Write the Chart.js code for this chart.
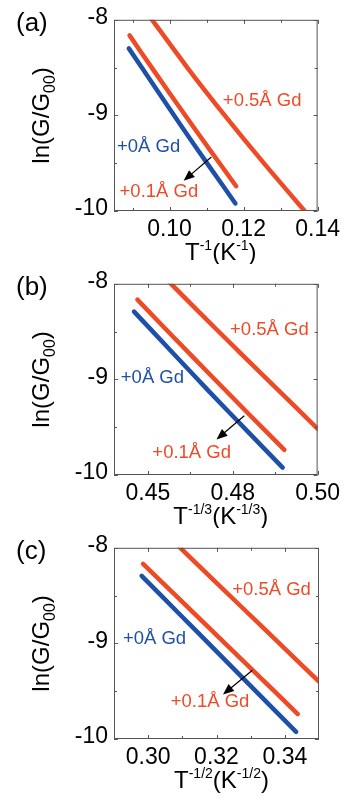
<!DOCTYPE html>
<html>
<head>
<meta charset="utf-8">
<script src="https://cdn.jsdelivr.net/npm/chart.js@4.4.0/dist/chart.umd.min.js"></script>
<style>
  html, body { margin: 0; padding: 0; background: #fff; }
  #wrap { position: relative; width: 345px; height: 807px; }
  canvas { position: absolute; left: 0; }
</style>
</head>
<body>
<div id="wrap">
  <canvas id="pa" width="345" height="264" style="top:0"></canvas>
  <canvas id="pb" width="345" height="264" style="top:264px"></canvas>
  <canvas id="pc" width="345" height="279" style="top:528px"></canvas>
</div>
<script>
// axe y commun aux trois panneaux
const yTicks = [-10, -9, -8];
const yLabels = ['-10', '-9', '-8'];
const yMinor = [-9.5, -8.5];

// (a) ln(G/G00) en fonction de T^-1
const xTicksA = [0.10, 0.12, 0.14];
const xLabelsA = ['0.10', '0.12', '0.14'];
const xMinorA = [0.09, 0.11, 0.13];
const gd0A = [[0.0890, -8.299], [0.0960, -8.700], [0.1034, -9.125], [0.1105, -9.520], [0.1178, -9.921]];
const gd01A = [[0.0892, -8.163], [0.0960, -8.545], [0.1036, -8.965], [0.1108, -9.355], [0.1180, -9.741]];
const gd05A = [[0.0940, -7.930], [0.0953, -8.000], [0.1050, -8.510], [0.1149, -9.000], [0.1257, -9.510], [0.1385, -10.090]];
const arrowA = [[0.1113, -9.435], [0.1038, -9.684]];
const notesA = [['+0.5Å Gd', 0.1144, -8.850, 2], ['+0Å Gd', 0.0858, -9.327, 0], ['+0.1Å Gd', 0.0865, -9.800, 1]];

// (b) ln(G/G00) en fonction de T^-1/3
const xTicksB = [0.45, 0.475, 0.50];
const xLabelsB = ['0.45', '0.48', '0.50'];
const xMinorB = [0.4625, 0.4875];
const gd0B = [[0.4459, -8.291], [0.4570, -8.710], [0.4680, -9.125], [0.4790, -9.530], [0.4897, -9.923]];
const gd01B = [[0.4469, -8.165], [0.4580, -8.575], [0.4690, -8.975], [0.4800, -9.372], [0.4902, -9.737]];
const gd05B = [[0.4550, -7.935], [0.4568, -8.000], [0.4700, -8.470], [0.4850, -8.995], [0.5010, -9.550]];
const arrowB = [[0.4784, -9.380], [0.4702, -9.628]];
const notesB = [['+0.5Å Gd', 0.4742, -8.478, 2], ['+0Å Gd', 0.4420, -8.988, 0], ['+0.1Å Gd', 0.4513, -9.770, 1]];

// (c) ln(G/G00) en fonction de T^-1/2
const xTicksC = [0.30, 0.32, 0.34];
const xLabelsC = ['0.30', '0.32', '0.34'];
const xMinorC = [0.31, 0.33];
const gd0C = [[0.2981, -8.293], [0.3090, -8.687], [0.3200, -9.084], [0.3320, -9.517], [0.3433, -9.925]];
const gd01C = [[0.2985, -8.167], [0.3100, -8.566], [0.3210, -8.948], [0.3320, -9.329], [0.3438, -9.739]];
const gd05C = [[0.3080, -7.952], [0.3094, -8.000], [0.3200, -8.366], [0.3350, -8.883], [0.3510, -9.435]];
const arrowC = [[0.3305, -9.280], [0.3219, -9.535]];
const notesC = [['+0.5Å Gd', 0.3246, -8.439, 2], ['+0Å Gd', 0.2926, -8.949, 0], ['+0.1Å Gd', 0.3066, -9.609, 1]];

const FONT = '"Liberation Sans", Arial, Helvetica, sans-serif';
const BLUE = '#1d50a6';
const RED = '#ee4a26';
const seriesColors = [BLUE, RED, RED];

// texte avec exposants / indices : parts = [texte, taille, décalage vertical]
function drawRich(ctx, parts, cx, y) {
  let w = 0;
  parts.forEach(p => { ctx.font = p[1] + 'px ' + FONT; w += ctx.measureText(p[0]).width; });
  let x = cx - w / 2;
  ctx.textAlign = 'left';
  ctx.textBaseline = 'alphabetic';
  parts.forEach(p => {
    ctx.font = p[1] + 'px ' + FONT;
    ctx.fillText(p[0], x, y + p[2]);
    x += ctx.measureText(p[0]).width;
  });
}

// cadre, graduations internes, annotations et titres
function decorations(cfg) {
  return {
    id: 'deco',
    afterDraw(chart) {
      const { ctx, chartArea: a, scales: { x, y } } = chart;
      ctx.save();
      ctx.fillStyle = '#000';
      ctx.strokeStyle = '#555';
      ctx.lineWidth = 1;
      ctx.strokeRect(a.left + 0.5, a.top + 0.5, a.right - a.left - 1, a.bottom - a.top - 1);

      ctx.beginPath();
      const xt = (vals, len) => vals.forEach(v => {
        const px = Math.round(x.getPixelForValue(v)) + 0.5;
        ctx.moveTo(px, a.bottom); ctx.lineTo(px, a.bottom - len);
        ctx.moveTo(px, a.top); ctx.lineTo(px, a.top + len);
      });
      const yt = (vals, len) => vals.forEach(v => {
        const py = Math.round(y.getPixelForValue(v)) + 0.5;
        ctx.moveTo(a.left, py); ctx.lineTo(a.left + len, py);
        ctx.moveTo(a.right, py); ctx.lineTo(a.right - len, py);
      });
      xt(cfg.xTicks, 4); xt(cfg.xMinor, 3);
      yt(yTicks, 4); yt(yMinor, 3);
      ctx.stroke();

      // flèche
      const p0 = [x.getPixelForValue(cfg.arrow[0][0]), y.getPixelForValue(cfg.arrow[0][1])];
      const p1 = [x.getPixelForValue(cfg.arrow[1][0]), y.getPixelForValue(cfg.arrow[1][1])];
      const ang = Math.atan2(p1[1] - p0[1], p1[0] - p0[0]);
      ctx.strokeStyle = '#000';
      ctx.lineWidth = 1.2;
      ctx.beginPath();
      ctx.moveTo(p0[0], p0[1]);
      ctx.lineTo(p1[0] - 6 * Math.cos(ang), p1[1] - 6 * Math.sin(ang));
      ctx.stroke();
      ctx.beginPath();
      ctx.moveTo(p1[0], p1[1]);
      ctx.lineTo(p1[0] - 11 * Math.cos(ang) + 4.5 * Math.sin(ang), p1[1] - 11 * Math.sin(ang) - 4.5 * Math.cos(ang));
      ctx.lineTo(p1[0] - 11 * Math.cos(ang) - 4.5 * Math.sin(ang), p1[1] - 11 * Math.sin(ang) + 4.5 * Math.cos(ang));
      ctx.closePath();
      ctx.fill();

      // étiquettes des courbes
      ctx.font = '18.5px ' + FONT;
      ctx.textAlign = 'left';
      ctx.textBaseline = 'middle';
      cfg.notes.forEach(n => {
        ctx.fillStyle = seriesColors[n[3]];
        ctx.fillText(n[0], x.getPixelForValue(n[1]), y.getPixelForValue(n[2]));
      });

      // titres
      ctx.fillStyle = '#000';
      drawRich(ctx, cfg.xTitle, (a.left + a.right) / 2 + 5, 260);
      ctx.save();
      ctx.translate(49, (a.top + a.bottom) / 2);
      ctx.rotate(-Math.PI / 2);
      drawRich(ctx, [['ln(G/G', 24, 0], ['00', 16, 6], [')', 24, 0]], 0, 0);
      ctx.restore();
      ctx.font = '26px ' + FONT;
      ctx.textAlign = 'left';
      ctx.textBaseline = 'alphabetic';
      ctx.fillText(cfg.letter, 16, 31);
      ctx.restore();
    }
  };
}

function toXY(arr) { return arr.map(p => ({ x: p[0], y: p[1] })); }

function makePanel(id, cfg) {
  const canvas = document.getElementById(id);
  const H = canvas.height;
  new Chart(canvas.getContext('2d'), {
    type: 'line',
    data: {
      datasets: cfg.series.map((s, i) => ({
        data: toXY(s),
        borderColor: seriesColors[i],
        borderWidth: 4.5,
        borderCapStyle: 'round',
        pointRadius: 0,
        tension: 0.3,
        clip: 0
      }))
    },
    options: {
      responsive: false,
      devicePixelRatio: 1,
      animation: false,
      layout: { padding: { top: 14, right: 26, left: 0, bottom: 0 } },
      plugins: { legend: { display: false }, tooltip: { enabled: false } },
      scales: {
        x: {
          type: 'linear',
          min: cfg.xMin, max: cfg.xMax,
          afterBuildTicks: s => { s.ticks = cfg.xTicks.map(v => ({ value: v })); },
          afterFit: s => { s.height = H - 211; },
          grid: { display: false, drawTicks: false },
          border: { display: false },
          ticks: {
            autoSkip: false, maxRotation: 0, padding: 5, color: '#000',
            font: { family: FONT, size: 23 },
            callback: (v, i) => cfg.xLabels[i]
          }
        },
        y: {
          type: 'linear',
          min: -10, max: -8,
          afterBuildTicks: s => { s.ticks = yTicks.map(v => ({ value: v })); },
          afterFit: s => { s.width = 114; },
          grid: { display: false, drawTicks: false },
          border: { display: false },
          ticks: {
            padding: 6, labelOffset: -2, color: '#000',
            font: { family: FONT, size: 23 },
            callback: (v, i) => yLabels[i]
          }
        }
      }
    },
    plugins: [decorations(cfg)]
  });
}

makePanel('pa', {
  letter: '(a)', xMin: 0.085, xMax: 0.14,
  xTicks: xTicksA, xLabels: xLabelsA, xMinor: xMinorA,
  series: [gd0A, gd01A, gd05A], arrow: arrowA, notes: notesA,
  xTitle: [['T', 24, 0], ['-1', 14, -10], ['(K', 24, 0], ['-1', 14, -10], [')', 24, 0]]
});
makePanel('pb', {
  letter: '(b)', xMin: 0.44, xMax: 0.50,
  xTicks: xTicksB, xLabels: xLabelsB, xMinor: xMinorB,
  series: [gd0B, gd01B, gd05B], arrow: arrowB, notes: notesB,
  xTitle: [['T', 24, 0], ['-1/3', 14, -10], ['(K', 24, 0], ['-1/3', 14, -10], [')', 24, 0]]
});
makePanel('pc', {
  letter: '(c)', xMin: 0.29, xMax: 0.35,
  xTicks: xTicksC, xLabels: xLabelsC, xMinor: xMinorC,
  series: [gd0C, gd01C, gd05C], arrow: arrowC, notes: notesC,
  xTitle: [['T', 24, 0], ['-1/2', 14, -10], ['(K', 24, 0], ['-1/2', 14, -10], [')', 24, 0]]
});
</script>
</body>
</html>
